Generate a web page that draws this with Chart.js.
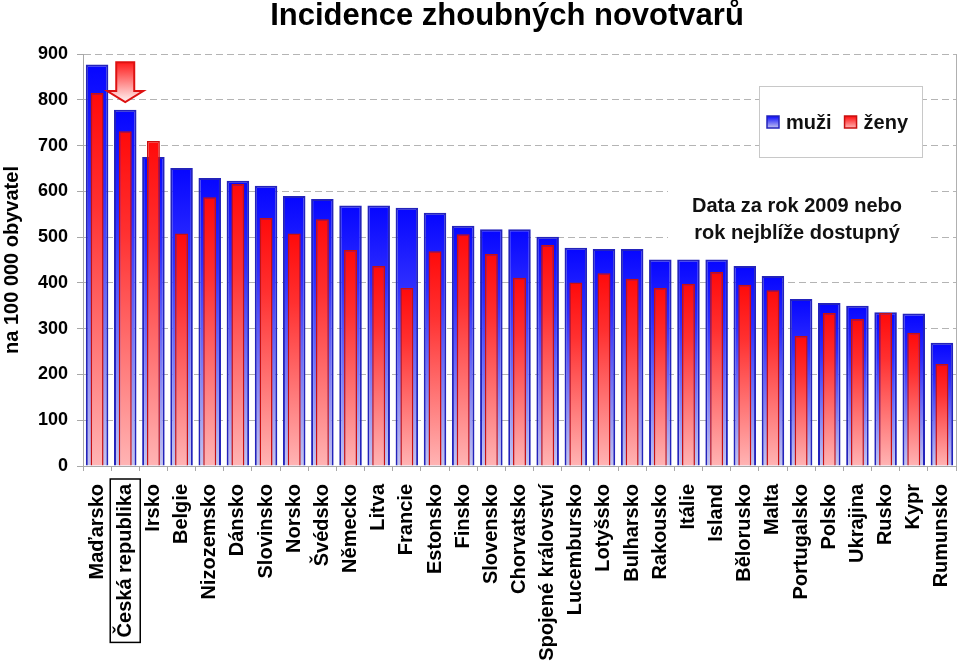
<!DOCTYPE html>
<html>
<head>
<meta charset="utf-8">
<style>
  html, body { margin: 0; padding: 0; background: #fff; }
  #obal { width: 959px; height: 666px; }
</style>
</head>
<body>
<div id="obal"><canvas id="graf"></canvas></div>

<script src="https://cdn.jsdelivr.net/npm/chart.js"></script>
<script>
  // data (na 100 000 obyvatel)
  const zeme = ['Maďarsko', 'Česká republika', 'Irsko', 'Belgie', 'Nizozemsko', 'Dánsko', 'Slovinsko',
    'Norsko', 'Švédsko', 'Německo', 'Litva', 'Francie', 'Estonsko', 'Finsko', 'Slovensko', 'Chorvatsko',
    'Spojené království', 'Lucembursko', 'Lotyšsko', 'Bulharsko', 'Rakousko', 'Itálie', 'Island',
    'Bělorusko', 'Malta', 'Portugalsko', 'Polsko', 'Ukrajina', 'Rusko', 'Kypr', 'Rumunsko'];
  const muzi = [877, 778, 675, 651, 629, 623, 612, 590, 583, 569, 569, 564, 553, 525, 517, 517,
    501, 477, 474, 474, 451, 451, 451, 437, 415, 365, 356, 350, 336, 333, 269];
  const zeny = [815, 731, 710, 508, 587, 616, 542, 508, 539, 472, 437, 389, 469, 506, 463, 411,
    483, 401, 421, 409, 389, 398, 424, 396, 384, 284, 334, 321, 334, 291, 223];
  const yTicks = [0, 100, 200, 300, 400, 500, 600, 700, 800, 900];

  const titulek = 'Incidence zhoubných novotvarů';
  const popisY = 'na 100 000 obyvatel';
  const poznamka = ['Data za rok 2009 nebo', 'rok nejblíže dostupný'];
  const zvyraznena = 'Česká republika';

  const modra = ['#0606ff', '#2e2eff', '#c4c4ee'];
  const cervena = ['#ff0a0a', '#ff3030', '#ffb4b4'];
  const pismo = "'Liberation Sans', Arial, sans-serif";

  function prechod(ctx, barvy) {
    const chart = ctx.chart;
    if (!chart.chartArea || ctx.type !== 'data') return barvy[1];
    const y = chart.scales.y;
    const horni = y.getPixelForValue(ctx.raw);
    const dolni = y.getPixelForValue(0);
    if (!isFinite(horni) || dolni - horni < 1) return barvy[1];
    const g = chart.ctx.createLinearGradient(0, horni, 0, dolni);
    g.addColorStop(0, barvy[0]);
    g.addColorStop(0.3, barvy[1]);
    g.addColorStop(1, barvy[2]);
    return g;
  }

  const doplnky = {
    id: 'doplnky',
    afterDraw(chart) {
      const c = chart.ctx;
      const a = chart.chartArea;
      const sx = chart.scales.x;
      const sy = chart.scales.y;
      c.save();

      // nadpis
      c.fillStyle = '#000';
      c.font = 'bold 31px ' + pismo;
      c.textAlign = 'center';
      c.textBaseline = 'middle';
      c.fillText(titulek, a.left + 424, 16);

      // pravý okraj plochy
      c.strokeStyle = '#b0b0b0';
      c.lineWidth = 1;
      c.beginPath();
      c.moveTo(a.right + 0.5, a.top);
      c.lineTo(a.right + 0.5, a.bottom);
      c.stroke();

      // poznámka s bílým podkladem
      c.fillStyle = '#fff';
      c.fillRect(a.right - 288, a.top + 132, 259, 65);
      c.fillStyle = '#111';
      c.font = 'bold 20px ' + pismo;
      c.textAlign = 'center';
      c.fillText(poznamka[0], a.right - 159, a.top + 152);
      c.fillText(poznamka[1], a.right - 159, a.top + 179);

      // legenda
      const lx = a.right - 197, ly = a.top + 32;
      c.fillStyle = '#fff';
      c.fillRect(lx, ly, 163, 71);
      c.strokeStyle = '#c8c8c8';
      c.strokeRect(lx + 0.5, ly + 0.5, 163, 71);
      let px = lx + 8;
      const py = ly + 36;
      chart.data.datasets.forEach((ds, i) => {
        const barvy = i === 0 ? modra : cervena;
        const g = c.createLinearGradient(0, py - 6, 0, py + 6);
        g.addColorStop(0, barvy[0]);
        g.addColorStop(1, barvy[2]);
        c.fillStyle = g;
        c.fillRect(px, py - 6, 12, 12);
        c.strokeStyle = ds.borderColor;
        c.lineWidth = 1.5;
        c.strokeRect(px, py - 6, 12, 12);
        c.fillStyle = '#111';
        c.font = 'bold 20px ' + pismo;
        c.textAlign = 'left';
        c.fillText(ds.label, px + 19, py + 1);
        px += 19 + c.measureText(ds.label).width + 13;
      });

      // šipka nad ČR
      const idx = zeme.indexOf(zvyraznena);
      const sxC = sx.getPixelForValue(idx);
      const yTop = sy.getPixelForValue(882);
      const yHlava = sy.getPixelForValue(819);
      const yHrot = sy.getPixelForValue(795);
      const gs = c.createLinearGradient(0, yTop, 0, yHrot);
      gs.addColorStop(0, '#ff1a1a');
      gs.addColorStop(1, '#fff4f4');
      c.beginPath();
      c.moveTo(sxC - 9, yTop);
      c.lineTo(sxC + 9, yTop);
      c.lineTo(sxC + 9, yHlava);
      c.lineTo(sxC + 18, yHlava);
      c.lineTo(sxC, yHrot);
      c.lineTo(sxC - 18, yHlava);
      c.lineTo(sxC - 9, yHlava);
      c.closePath();
      c.fillStyle = gs;
      c.fill();
      c.strokeStyle = '#dd1111';
      c.lineWidth = 2;
      c.stroke();

      // rámeček kolem popisku ČR
      c.font = sx.options.ticks.font.weight + ' ' + sx.options.ticks.font.size + 'px ' + pismo;
      const delka = c.measureText(zvyraznena).width;
      const zacatek = a.bottom + sx.options.grid.tickLength + sx.options.ticks.padding;
      c.strokeStyle = '#000';
      c.lineWidth = 1.5;
      c.strokeRect(sxC - 15, zacatek - 5, 30, delka + 10);

      c.restore();
    }
  };

  new Chart(document.getElementById('graf'), {
    type: 'bar',
    data: {
      labels: zeme,
      datasets: [
        {
          label: 'muži',
          data: muzi,
          backgroundColor: ctx => prechod(ctx, modra),
          borderColor: '#2323bb',
          borderWidth: 2,
          barPercentage: 0.8,
          categoryPercentage: 1,
          grouped: false,
          order: 2
        },
        {
          label: 'ženy',
          data: zeny,
          backgroundColor: ctx => prechod(ctx, cervena),
          borderColor: '#c81010',
          borderWidth: 1.5,
          barPercentage: 0.46,
          categoryPercentage: 1,
          grouped: false,
          order: 1
        }
      ]
    },
    options: {
      responsive: true,
      maintainAspectRatio: false,
      animation: false,
      layout: { padding: { left: 0, right: 3, top: 54, bottom: 0 } },
      plugins: {
        legend: { display: false },
        tooltip: { enabled: false },
        title: { display: false }
      },
      scales: {
        x: {
          offset: true,
          grid: { display: true, drawOnChartArea: false, drawTicks: true, tickLength: 5, color: '#a8a8a8' },
          border: { display: true, color: '#a8a8a8' },
          ticks: {
            autoSkip: false,
            minRotation: 90,
            maxRotation: 90,
            padding: 13,
            color: '#000',
            font: { family: pismo, size: 20, weight: 'bold' }
          },
          afterFit: s => { s.height = 200; s.paddingLeft = 0; s.paddingRight = 0; }
        },
        y: {
          min: yTicks[0],
          max: yTicks[yTicks.length - 1],
          afterBuildTicks: s => { s.ticks = yTicks.map(v => ({ value: v })); },
          grid: { color: '#b4b4b4', tickLength: 6, tickColor: '#a8a8a8' },
          border: { display: true, color: '#a8a8a8', dash: [7, 4] },
          ticks: {
            padding: 9,
            color: '#000',
            font: { family: pismo, size: 18, weight: 'bold' }
          },
          title: {
            display: true,
            text: popisY,
            color: '#000',
            font: { family: pismo, size: 20, weight: 'bold' },
            padding: { top: 0, bottom: 0 }
          },
          afterFit: s => { s.width = 83; }
        }
      }
    },
    plugins: [doplnky]
  });
</script>
</body>
</html>
